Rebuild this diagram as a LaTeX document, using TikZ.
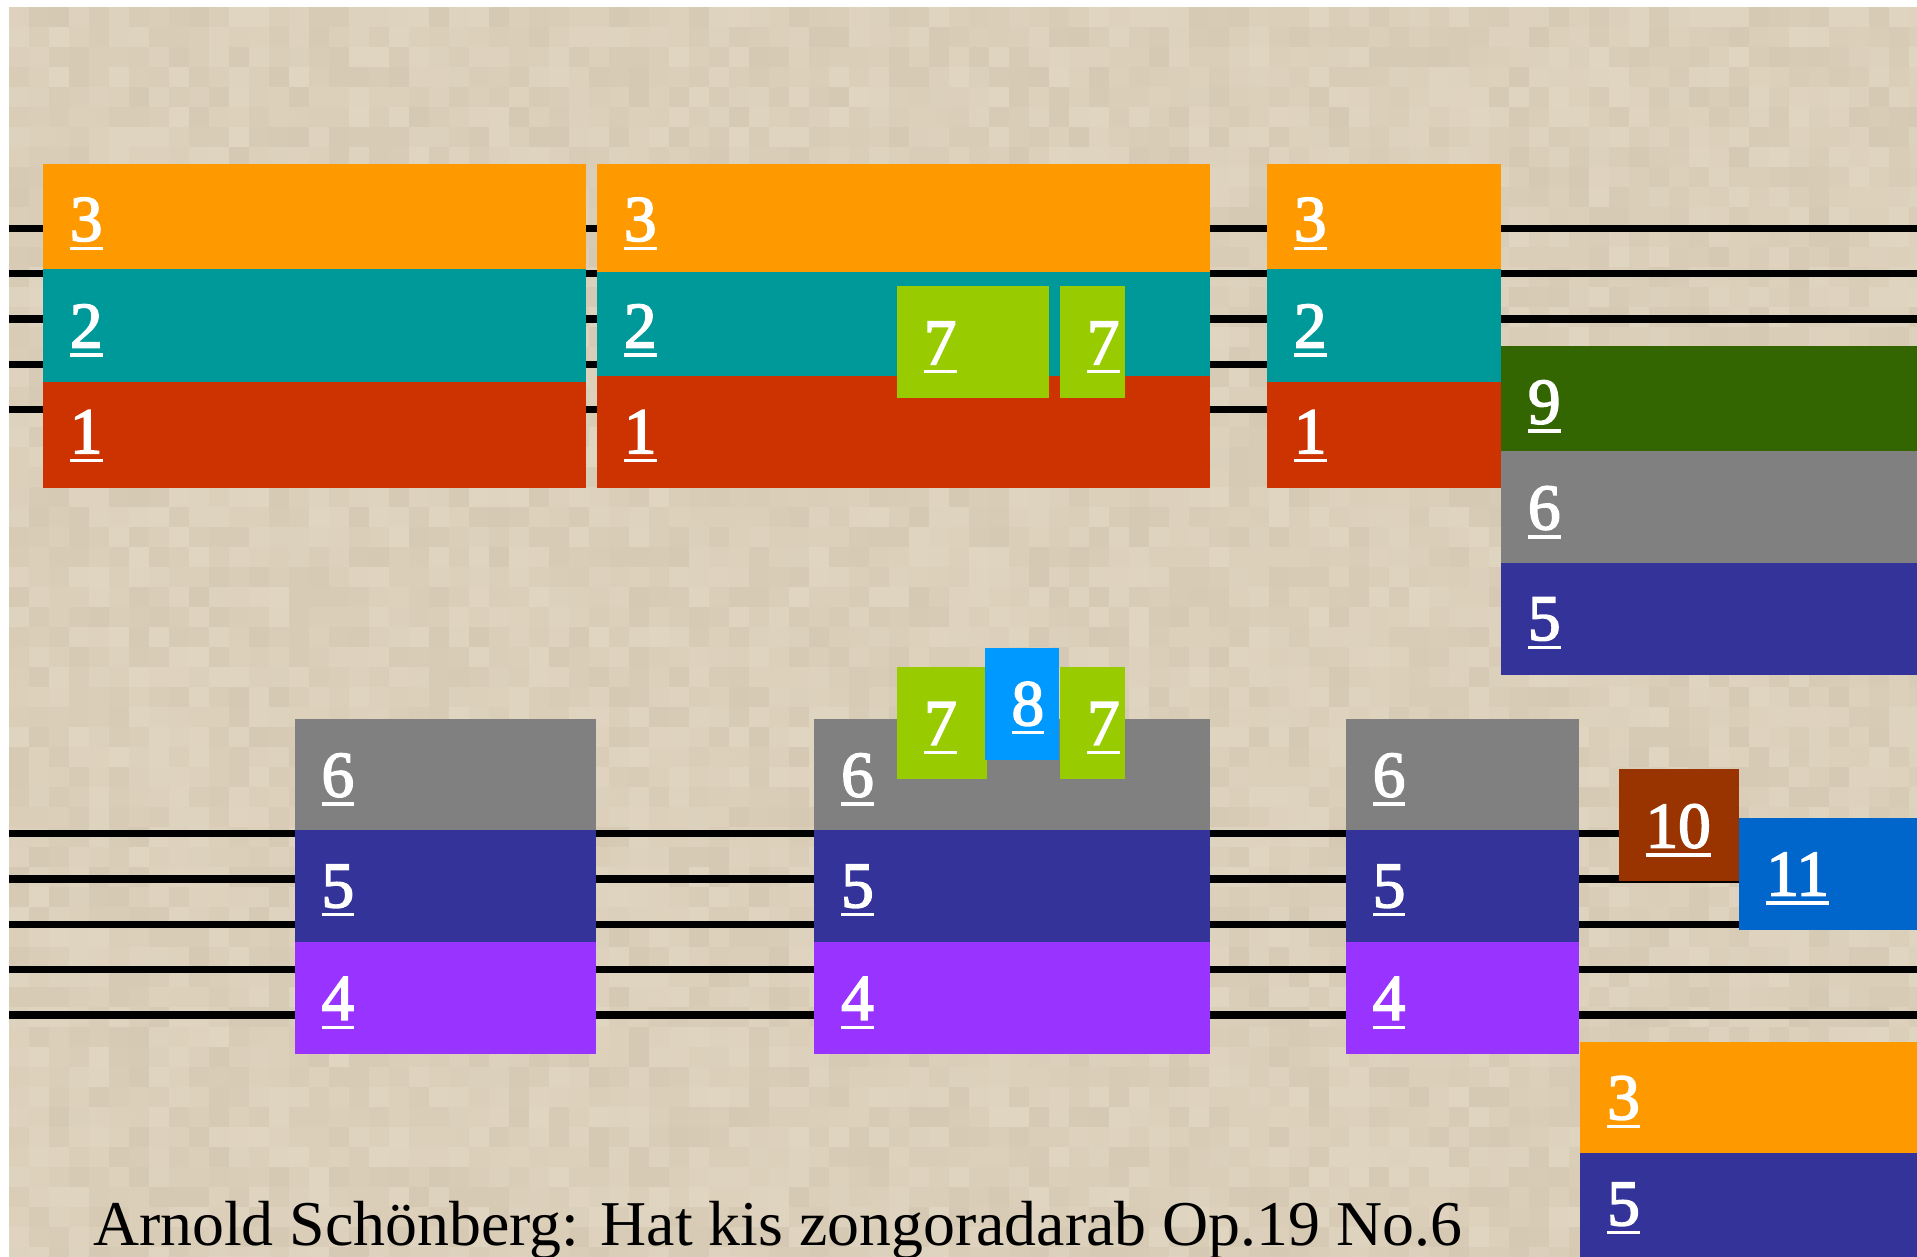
\documentclass[tikz,border=0pt]{standalone}
\usepackage{fontspec}
\usepackage{graphicx}
\setmainfont{Liberation Serif}
\newfontfamily\numfont[FakeBold=2.6]{Liberation Serif}
\definecolor{cOrange}{HTML}{FF9900}
\definecolor{cTeal}{HTML}{009999}
\definecolor{cRed}{HTML}{CC3300}
\definecolor{cLime}{HTML}{99CC00}
\definecolor{cDkGreen}{HTML}{336600}
\definecolor{cGray}{HTML}{808080}
\definecolor{cNavy}{HTML}{333399}
\definecolor{cPurple}{HTML}{9933FF}
\definecolor{cSky}{HTML}{0099FF}
\definecolor{cBrown}{HTML}{993300}
\definecolor{cBlue}{HTML}{0066CC}
\definecolor{bgA}{HTML}{D6C9B3}
\definecolor{bgB}{HTML}{E0D5C1}
\newcommand{\ulnum}[1]{\setbox0\hbox{#1}\rlap{\rule[-4.6pt]{\wd0}{1.7pt}}\box0}
% name, x1, y1, x2, y2, colour, label, baseline
\newcommand{\blk}[8]{%
  \fill[#6] (#2,#3) rectangle (#4,#5);
  \node[lbl] (#1) at (#2+27,#8) {\ulnum{#7}};
}
\tikzset{
  lbl/.style={anchor=base west, inner sep=0pt, outer sep=0pt, text=white,
    font=\numfont\fontsize{32.5}{36}\selectfont},
  staffline/.style={line width=3.7pt, black},
  titletext/.style={anchor=base west, inner sep=0pt, outer sep=0pt, text=black,
    font=\fontsize{34}{40}\selectfont}
}
\begin{document}
\begin{tikzpicture}[x=0.5pt,y=-0.5pt]
\useasboundingbox (0,0) rectangle (1917,1257);
\fill[white] (0,0) rectangle (1917,1257);
\fill[bgB!50!bgA] (9,7) rectangle (1917,1257);
% textured background
\pgfmathsetseed{7}
\foreach \i in {0,...,95}{
  \foreach \j in {0,...,62}{
    \pgfmathtruncatemacro\pct{random(0,100)}
    \fill[bgA!\pct!bgB] ({9+20*\i},{7+20*\j}) rectangle ({min(29+20*\i,1917)},{min(27+20*\j,1257)});
  }
}
% staff lines
\foreach \y in {228.3,273.3,319,364.3,409.3,833.3,879,924.3,969.3,1015}{
  \draw[staffline] (9,\y) -- (1917,\y);
}
% top system
\blk{b1o}{43}{164}{586}{269.5}{cOrange}{3}{240.8}
\blk{b1t}{43}{269.5}{586}{381.7}{cTeal}{2}{347.5}
\blk{b1r}{43}{381.7}{586}{487.7}{cRed}{1}{453.2}
\blk{b2o}{597}{164}{1210}{271.7}{cOrange}{3}{240.8}
\blk{b2t}{597}{271.7}{1210}{375.7}{cTeal}{2}{347.5}
\blk{b2r}{597}{375.7}{1210}{487.7}{cRed}{1}{453.2}
\blk{g7a}{897}{286}{1049}{397.7}{cLime}{7}{364.2}
\blk{g7b}{1060}{286}{1125}{397.7}{cLime}{7}{364.2}
\blk{b3o}{1267}{164}{1501}{269.3}{cOrange}{3}{240.8}
\blk{b3t}{1267}{269.3}{1501}{381.8}{cTeal}{2}{347.5}
\blk{b3r}{1267}{381.8}{1501}{487.5}{cRed}{1}{453.2}
\blk{r9}{1501}{345.7}{1917}{451}{cDkGreen}{9}{423.5}
\blk{r6}{1501}{451}{1917}{563.2}{cGray}{6}{529.3}
\blk{r5}{1501}{563.2}{1917}{674.6}{cNavy}{5}{640}
% bottom system
\blk{l6}{294.6}{718.5}{595.5}{830}{cGray}{6}{796.5}
\blk{l5}{294.6}{830}{595.5}{941.7}{cNavy}{5}{907.2}
\blk{l4}{294.6}{941.7}{595.5}{1054}{cPurple}{4}{1019.8}
\blk{m6}{814.2}{718.5}{1210}{830}{cGray}{6}{796.5}
\blk{m5}{814.2}{830}{1210}{941.7}{cNavy}{5}{907.2}
\blk{m4}{814.2}{941.7}{1210}{1054}{cPurple}{4}{1019.8}
\blk{m7a}{897.3}{667}{987.1}{778.7}{cLime}{7}{744.8}
\blk{m8}{984.6}{648}{1059}{759.7}{cSky}{8}{725.2}
\blk{m7b}{1060.1}{667}{1124.9}{778.7}{cLime}{7}{744.8}
\blk{q6}{1345.8}{718.5}{1578.6}{830}{cGray}{6}{796.5}
\blk{q5}{1345.8}{830}{1578.6}{941.7}{cNavy}{5}{907.2}
\blk{q4}{1345.8}{941.7}{1578.6}{1054}{cPurple}{4}{1019.8}
\blk{n10}{1618.7}{769}{1739.3}{881}{cBrown}{10}{847.5}
\blk{n11}{1739.3}{818.3}{1917}{929.7}{cBlue}{11}{895.5}
\blk{e3}{1580.3}{1041.7}{1917}{1153.3}{cOrange}{3}{1119.2}
\blk{e5}{1580.3}{1153.3}{1917}{1257}{cNavy}{5}{1225.2}
% title
\node[titletext] (title) at (93,1245) {\resizebox{684.5pt}{!}{Arnold Schönberg: Hat kis zongoradarab Op.19 No.6}};
\end{tikzpicture}
\end{document}
